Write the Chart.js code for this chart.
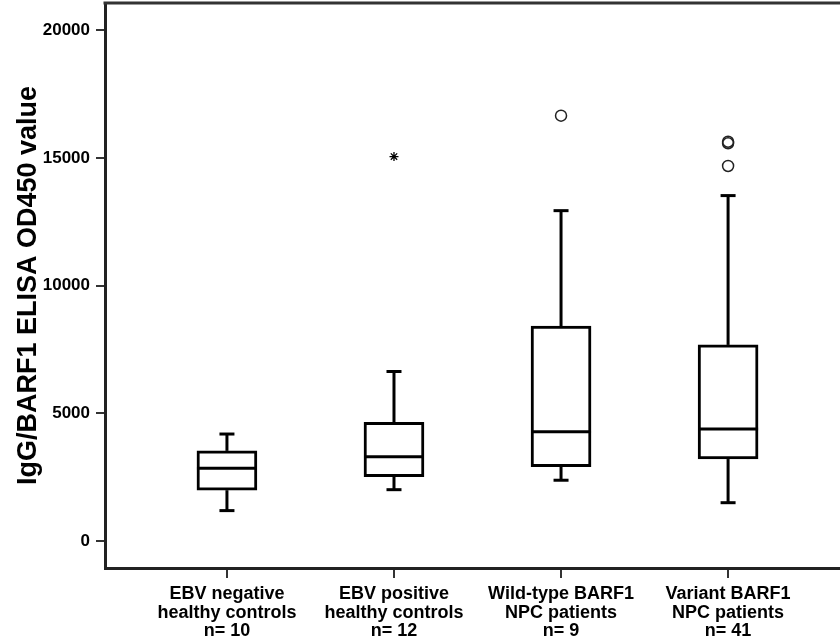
<!DOCTYPE html>
<html>
<head>
<meta charset="utf-8">
<script src="https://cdn.jsdelivr.net/npm/chart.js@4"></script>
<style>
  html, body { margin: 0; padding: 0; background: #fff; }
  #wrap { width: 840px; height: 638px; }
</style>
</head>
<body>
<div id="wrap"><canvas id="boxChart" width="840" height="638"></canvas></div>
<script>
// Groups on the x axis
var categories = [
    ['EBV negative', 'healthy controls', 'n= 10'],
    ['EBV positive', 'healthy controls', 'n= 12'],
    ['Wild-type BARF1', 'NPC patients', 'n= 9'],
    ['Variant BARF1', 'NPC patients', 'n= 41']
];

// Box plot statistics
var whiskerLow  = [1190, 2010, 2380, 1500];
var q1          = [1990, 2520, 2910, 3210];
var median      = [2850, 3300, 4280, 4390];
var q3          = [3530, 4650, 8420, 7680];
var whiskerHigh = [4190, 6640, 12940, 13530];

// Outliers (circles) and extremes (stars): [group, value]
var outliers = [[3, 16660], [4, 15580], [4, 15640], [4, 14690]];
var extremes = [[2, 15060]];

var yTicks = [0, 5000, 10000, 15000, 20000];

var boxData = categories.map(function(c, i) {
    return { x: i + 1, y: [q1[i], q3[i]] };
});

// Whiskers, caps and medians, drawn through the chart scales
var boxParts = {
    id: 'boxParts',
    afterDatasetsDraw: function(chart) {
        var ctx = chart.ctx;
        var xs = chart.scales.x, ys = chart.scales.y;
        var boxHalf = 30, capHalf = 7.5;
        var line = function(x1, y1, x2, y2) {
            ctx.beginPath(); ctx.moveTo(x1, y1); ctx.lineTo(x2, y2); ctx.stroke();
        };
        ctx.save();
        ctx.strokeStyle = '#000';
        ctx.lineWidth = 3;
        for (var i = 0; i < categories.length; i++) {
            var cx = xs.getPixelForValue(i + 1);
            // whiskers
            line(cx, ys.getPixelForValue(q3[i]), cx, ys.getPixelForValue(whiskerHigh[i]));
            line(cx, ys.getPixelForValue(q1[i]), cx, ys.getPixelForValue(whiskerLow[i]));
            // caps
            line(cx - capHalf, ys.getPixelForValue(whiskerHigh[i]), cx + capHalf, ys.getPixelForValue(whiskerHigh[i]));
            line(cx - capHalf, ys.getPixelForValue(whiskerLow[i]), cx + capHalf, ys.getPixelForValue(whiskerLow[i]));
            // median
            line(cx - boxHalf, ys.getPixelForValue(median[i]), cx + boxHalf, ys.getPixelForValue(median[i]));
        }
        // top frame line
        var a = chart.chartArea;
        ctx.strokeStyle = '#333';
        line(a.left - 1.5, a.top, a.right, a.top);
        ctx.restore();
    }
};

var boldFont = 'Liberation Sans, Arial, sans-serif';

new Chart(document.getElementById('boxChart').getContext('2d'), {
    type: 'bar',
    data: {
        datasets: [{
            data: boxData,
            backgroundColor: '#fff',
            borderColor: '#000',
            borderWidth: 3,
            borderSkipped: false,
            barThickness: 60
        }, {
            type: 'scatter',
            data: outliers.map(function(o) { return { x: o[0], y: o[1] }; }),
            pointStyle: 'circle',
            radius: 5.5,
            borderWidth: 1.5,
            borderColor: '#222',
            backgroundColor: 'rgba(0,0,0,0)'
        }, {
            type: 'scatter',
            data: extremes.map(function(o) { return { x: o[0], y: o[1] }; }),
            pointStyle: 'star',
            radius: 4.5,
            borderWidth: 1.3,
            borderColor: '#000'
        }]
    },
    plugins: [boxParts],
    options: {
        responsive: false,
        animation: false,
        layout: { autoPadding: false, padding: { top: 3, right: 0, left: 0, bottom: 0 } },
        plugins: {
            legend: { display: false },
            tooltip: { enabled: false }
        },
        scales: {
            x: {
                type: 'linear',
                offset: false,
                min: 0.27,
                max: 4.67,
                afterBuildTicks: function(scale) {
                    scale.ticks = categories.map(function(c, i) { return { value: i + 1 }; });
                },
                afterFit: function(scale) {
                    scale.height = 70;
                    scale.paddingLeft = 0;
                    scale.paddingRight = 0;
                },
                border: { display: true, color: '#222', width: 3 },
                grid: { offset: false, drawOnChartArea: false, drawTicks: true, tickLength: 10, tickColor: '#333', lineWidth: 2 },
                ticks: {
                    autoSkip: false,
                    maxRotation: 0,
                    padding: 7,
                    color: '#000',
                    font: { family: boldFont, size: 18, weight: 'bold', lineHeight: 1.03 },
                    callback: function(v) { return categories[v - 1]; }
                }
            },
            y: {
                min: -1058,
                max: 21074,
                afterBuildTicks: function(scale) {
                    scale.ticks = yTicks.map(function(v) { return { value: v }; });
                },
                afterFit: function(scale) {
                    scale.width = 105;
                    scale.paddingTop = 0;
                    scale.paddingBottom = 0;
                },
                border: { display: true, color: '#222', width: 3 },
                grid: { drawOnChartArea: false, drawTicks: true, tickLength: 9, tickColor: '#333', lineWidth: 2 },
                ticks: {
                    padding: 6,
                    color: '#000',
                    font: { family: boldFont, size: 17, weight: 'bold' },
                    callback: function(v) { return String(v); }
                },
                title: {
                    display: true,
                    text: 'IgG/BARF1 ELISA OD450 value',
                    color: '#000',
                    padding: { top: 12, bottom: 0 },
                    font: { family: boldFont, size: 27, weight: 'bold' }
                }
            }
        }
    }
});
</script>
</body>
</html>
